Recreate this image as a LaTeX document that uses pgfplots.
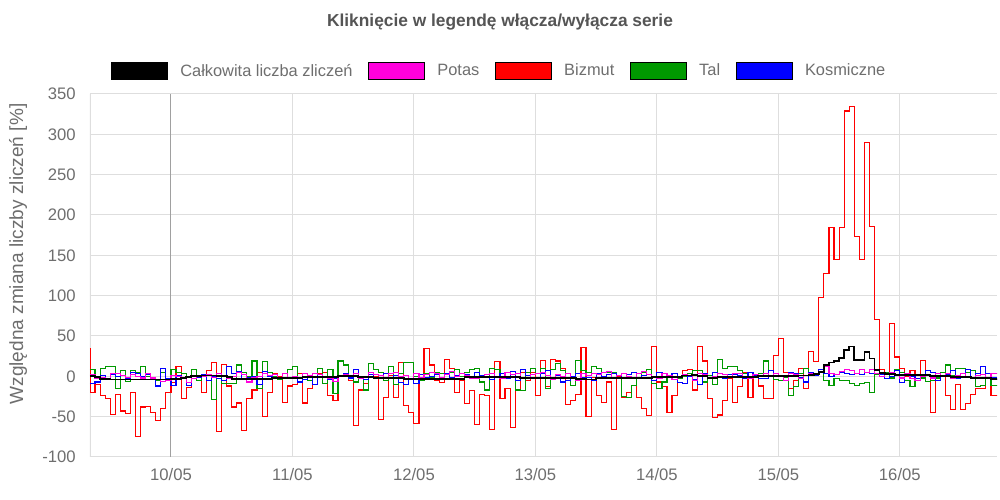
\documentclass[border=0pt]{standalone}
\usepackage{pgfplots}
\pgfplotsset{compat=1.18}
\usepackage{fontspec}
\setmainfont{Liberation Sans}
\definecolor{txt}{HTML}{6E6E6E}
\definecolor{ttl}{HTML}{555555}
\definecolor{gridc}{HTML}{DEDEDE}
\definecolor{basec}{HTML}{A0A0A0}
\definecolor{potas}{HTML}{FF00DD}
\definecolor{bizmut}{HTML}{FF0000}
\definecolor{tal}{HTML}{009900}
\definecolor{kosm}{HTML}{0000FF}
\begin{document}
\begin{tikzpicture}
\useasboundingbox (0,0) rectangle (750pt,375pt);
\begin{axis}[
	at={(67.5pt,32.25pt)}, anchor=south west,
	scale only axis, width=680.25pt, height=272.25pt,
	xmin=-16, xmax=163.2, ymin=-100, ymax=350,
	xtick={0,24,48,72,96,120,144},
	xticklabels={10/05,11/05,12/05,13/05,14/05,15/05,16/05},
	ytick={-100,-50,...,350},
	grid=major, major grid style={gridc, line width=0.75pt},
	axis line style={draw=none}, tick style={draw=none},
	ticklabel style={font=\fontsize{12.5}{15}\selectfont, text=txt},
	/pgf/number format/assume math mode=true,
	yticklabel style={anchor=east, inner sep=0pt, xshift=-10.5pt},
	xticklabel style={anchor=north, inner sep=0pt, yshift=-8.5pt},
	const plot,
	legend columns=5,
	legend style={at={(0.4515,1.0634)}, anchor=center, draw=none, fill=none,
		font=\fontsize{12.3}{15}\selectfont, text=txt,
		cells={anchor=west, inner sep=0pt},
		/tikz/every odd column/.append style={column sep=7.5pt},
		/tikz/every even column/.append style={column sep=9.75pt}},
	legend image code/.code={\fill[#1] (0pt,-6.5pt) rectangle (42pt,6.5pt);},
]
% legend in the order of the original
\addlegendimage{fill=black}
\addlegendentry{Całkowita liczba zliczeń}
\addlegendimage{fill=potas}
\addlegendentry{Potas}
\addlegendimage{fill=bizmut}
\addlegendentry{Bizmut}
\addlegendimage{fill=tal}
\addlegendentry{Tal}
\addlegendimage{fill=kosm}
\addlegendentry{Kosmiczne}
%
\draw[gridc, line width=0.75pt] (axis cs:-16,-100) -- (axis cs:-16,350);
\draw[basec, line width=0.75pt] (axis cs:0,-100) -- (axis cs:0,350);
%
% Bizmut
\addplot[forget plot, bizmut, line width=0.85pt] coordinates {
(-16,35)(-15.95,-20)(-15,-10)(-14,-24)(-13,-27)(-12,-47)(-11,-22)(-10,-43)(-9,-46)(-8,-20)(-7,-75)(-6,-38)(-5,-37)(-4,-45)(-3,-55)(-2,-40)(-1,-20)
(0,-8)(1,12)(2,-28)(3,-14)(4,-3)(5,0)(6,-20)(7,7)(8,17)(9,-68)(10,15)(11,-12)(12,-38)(13,-33)(14,-67)(15,-27)(16,-17)(17,5)(18,-50)(19,-20)(20,3)(21,0)(22,-32)(23,-12)
(24,-10)(25,3)(26,-33)(27,-15)(28,0)(29,3)(30,5)(31,-24)(32,-30)(33,0)(34,3)(35,-5)(36,-61)(37,-17)(38,-9)(39,5)(40,0)(41,-53)(42,-26)(43,1)(44,-26)(45,17)(46,-36)(47,-45)
(48,-59)(49,-5)(50,34)(51,14)(52,-5)(53,-8)(54,21)(55,10)(56,-20)(57,-5)(58,-34)(59,-18)(60,-60)(61,-22)(62,-24)(63,-66)(64,18)(65,-28)(66,-15)(67,-63)(68,-18)(69,5)(70,-5)(71,5)
(72,-24)(73,20)(74,-13)(75,21)(76,19)(77,10)(78,-35)(79,-30)(80,-22)(81,36)(82,-50)(83,-1)(84,-24)(85,-32)(86,-7)(87,-66)(88,0)(89,-26)(90,-20)(91,-11)(92,-26)(93,-40)(94,-49)(95,37)
(96,-7)(97,-13)(98,-45)(99,-24)(100,-2)(101,7)(102,8)(103,-17)(104,37)(105,19)(106,-28)(107,-51)(108,-48)(109,-30)(110,-2)(111,-32)(112,-13)(113,5)(114,-26)(115,0)(116,-12)(117,-28)(118,-28)(119,26)
(120,47)(121,5)(122,-15)(123,-5)(124,10)(125,-15)(126,31)(127,18)(128,98)(129,128)(130,185)(131,145)(132,185)(133,329)(134,334)(135,173)(136,145)(137,290)(138,186)(139,70)(140,8)(141,5)(142,65)(143,24)
(144,10)(145,0)(146,7)(147,2)(148,20)(149,2)(150,-45)(151,0)(152,5)(153,-24)(154,-41)(155,-10)(156,-41)(157,-34)(158,-22)(159,-15)(160,-15)(161,-1)(162,-24)(163,-24)(164,-24)
};
% Tal
\addplot[forget plot, tal, line width=0.85pt] coordinates {
(-16,8)(-15,0)(-14,10)(-13,12)(-12,12)(-11,-15)(-10,7)(-9,-6)(-8,7)(-7,5)(-6,12)(-5,0)(-4,-2)(-3,-5)(-2,5)(-1,-3)
(0,9)(1,5)(2,3)(3,-11)(4,8)(5,-5)(6,0)(7,-5)(8,-29)(9,0)(10,-9)(11,-9)(12,-9)(13,14)(14,5)(15,0)(16,19)(17,-15)(18,18)(19,5)(20,0)(21,-4)(22,3)(23,8)
(24,12)(25,-3)(26,0)(27,-5)(28,3)(29,10)(30,-9)(31,8)(32,-21)(33,19)(34,14)(35,0)(36,-7)(37,0)(38,-17)(39,16)(40,8)(41,5)(42,-5)(43,12)(44,-10)(45,3)(46,17)(47,17)
(48,0)(49,-5)(50,3)(51,-2)(52,5)(53,3)(54,-3)(55,5)(56,8)(57,0)(58,5)(59,8)(60,10)(61,-7)(62,-17)(63,10)(64,8)(65,3)(66,-2)(67,0)(68,-17)(69,-18)(70,5)(71,10)
(72,3)(73,10)(74,-15)(75,8)(76,16)(77,7)(78,-1)(79,-11)(80,20)(81,7)(82,5)(83,12)(84,10)(85,5)(86,5)(87,5)(88,-3)(89,-25)(90,-26)(91,-11)(92,-3)(93,5)(94,8)(95,-9)
(96,-15)(97,-7)(98,1)(99,3)(100,-3)(101,0)(102,3)(103,7)(104,7)(105,-7)(106,1)(107,-10)(108,21)(109,10)(110,12)(111,12)(112,7)(113,3)(114,5)(115,1)(116,4)(117,19)(118,7)(119,-4)
(120,-5)(121,-1)(122,-24)(123,-13)(124,3)(125,10)(126,5)(127,4)(128,5)(129,-5)(130,-11)(131,-3)(132,-5)(133,-5)(134,-9)(135,-11)(136,-9)(137,-8)(138,-20)(139,2)(140,3)(141,5)(142,-2)(143,8)
(144,5)(145,-5)(146,-13)(147,-3)(148,-2)(149,-6)(150,-5)(151,-2)(152,5)(153,14)(154,1)(155,10)(156,10)(157,5)(158,7)(159,-13)(160,-11)(161,3)(162,-11)(163,-11)(164,-11)
};
% Kosmiczne
\addplot[forget plot, kosm, line width=0.85pt] coordinates {
(-16,-9)(-15,-7)(-14,1)(-13,-3)(-12,2)(-11,0)(-10,1)(-9,-2)(-8,5)(-7,4)(-6,0)(-5,2)(-4,-3)(-3,-12)(-2,10)(-1,-3)
(0,-11)(1,1)(2,-3)(3,-11)(4,1)(5,-1)(6,2)(7,-5)(8,0)(9,-3)(10,-5)(11,12)(12,3)(13,6)(14,-3)(15,-2)(16,0)(17,-10)(18,6)(19,0)(20,-2)(21,-3)(22,4)(23,-2)
(24,-3)(25,-7)(26,-4)(27,-1)(28,-10)(29,2)(30,0)(31,-4)(32,-2)(33,1)(34,3)(35,-2)(36,8)(37,0)(38,-4)(39,2)(40,-3)(41,-1)(42,3)(43,-1)(44,1)(45,-8)(46,-10)(47,-3)
(48,-9)(49,2)(50,-2)(51,0)(52,2)(53,-3)(54,3)(55,-1)(56,1)(57,4)(58,2)(59,-3)(60,5)(61,1)(62,0)(63,-4)(64,0)(65,4)(66,-2)(67,6)(68,-5)(69,8)(70,1)(71,-2)
(72,-3)(73,4)(74,7)(75,-4)(76,1)(77,-7)(78,-5)(79,0)(80,3)(81,-2)(82,-1)(83,-5)(84,3)(85,0)(86,2)(87,3)(88,1)(89,-2)(90,2)(91,5)(92,-3)(93,1)(94,2)(95,-5)
(96,5)(97,3)(98,0)(99,4)(100,-8)(101,-9)(102,0)(103,-4)(104,-10)(105,3)(106,-2)(107,5)(108,-1)(109,-2)(110,2)(111,2)(112,1)(113,-2)(114,5)(115,1)(116,-3)(117,-3)(118,7)(119,0)
(120,0)(121,-5)(122,5)(123,3)(124,-2)(125,-7)(126,5)(127,1)(128,8)(129,3)(130,0)(131,2)(132,5)(133,3)(134,2)(135,4)(136,2)(137,5)(138,3)(139,7)(140,2)(141,-3)(142,0)(143,7)
(144,-8)(145,2)(146,0)(147,-3)(148,2)(149,7)(150,5)(151,-5)(152,0)(153,2)(154,7)(155,-2)(156,3)(157,8)(158,-2)(159,4)(160,12)(161,3)(162,-2)(163,-4)(164,-4)
};
% Potas
\addplot[forget plot, potas, line width=0.85pt] coordinates {
(-16,2)(-15,-3)(-14,-1)(-13,-4)(-12,3)(-11,3)(-10,1)(-9,-1)(-8,2)(-7,0)(-6,-2)(-5,3)(-4,-2)(-3,-4)(-2,-6)(-1,-5)
(0,1)(1,0)(2,-2)(3,-8)(4,-3)(5,1)(6,0)(7,2)(8,-1)(9,3)(10,1)(11,-3)(12,0)(13,5)(14,2)(15,-7)(16,-1)(17,0)(18,3)(19,1)(20,2)(21,-1)(22,3)(23,-2)
(24,0)(25,-2)(26,3)(27,1)(28,4)(29,2)(30,0)(31,-3)(32,-6)(33,0)(34,2)(35,1)(36,3)(37,-2)(38,0)(39,5)(40,2)(41,1)(42,-2)(43,3)(44,5)(45,0)(46,1)(47,-3)
(48,4)(49,-1)(50,2)(51,5)(52,3)(53,-1)(54,2)(55,6)(56,0)(57,3)(58,1)(59,-2)(60,-3)(61,0)(62,2)(63,3)(64,0)(65,-2)(66,5)(67,2)(68,3)(69,-1)(70,-2)(71,2)
(72,3)(73,5)(74,1)(75,-4)(76,2)(77,0)(78,3)(79,-1)(80,-5)(81,3)(82,1)(83,4)(84,2)(85,5)(86,6)(87,-2)(88,1)(89,3)(90,0)(91,-1)(92,3)(93,6)(94,2)(95,0)
(96,-2)(97,3)(98,1)(99,-4)(100,0)(101,2)(102,1)(103,-5)(104,3)(105,2)(106,-2)(107,0)(108,4)(109,2)(110,-1)(111,3)(112,4)(113,0)(114,-3)(115,2)(116,0)(117,3)(118,1)(119,4)
(120,0)(121,-5)(122,3)(123,2)(124,-3)(125,1)(126,4)(127,2)(128,5)(129,12)(130,3)(131,2)(132,6)(133,8)(134,7)(135,3)(136,9)(137,5)(138,9)(139,4)(140,0)(141,3)(142,5)(143,1)
(144,-2)(145,3)(146,-3)(147,-5)(148,0)(149,2)(150,-2)(151,3)(152,0)(153,4)(154,-2)(155,1)(156,3)(157,0)(158,-2)(159,1)(160,2)(161,-1)(162,3)(163,4)(164,4)
};
% Calkowita liczba zliczen
\addplot[forget plot, black, line width=1.3pt] coordinates {
(-16,0)(-15,-1)(-14,-3)(-12,-4)(0,-3)(2,-2)(3,-1)(4,0)(6,1)(9,0)(11,-1)(12,-3)(18,-3)(20,-2)(24,-2)(26,-1)(31,-1)(33,0)(37,-1)(40,-2)
(46,-3)(58,-1)(69,-2)(80,-3)(82,-4)(84,-2)(92,-2)(95,-1)(101,1)(103,2)(104,0)(106,-2)(108,-1)(116,0)(120,0)(124,1)(126,2)(127,3)
(128,5)(129,14)(130,17)(131,19)(132,23)(133,33)(134,37)(135,20)(136,20)(137,30)(138,22)(139,8)(140,4)(141,3)(143,2)(146,2)(150,0)(154,-1)(158,-2)(162,-3)(164,-3)
};
\end{axis}
\node[font=\bfseries\fontsize{13}{15}\selectfont, text=ttl] at (375pt,358.5pt) {Kliknięcie w legendę włącza/wyłącza serie};
\node[rotate=90, font=\fontsize{14.3}{16}\selectfont, text=txt] at (13.5pt,184.5pt) {Względna zmiana liczby zliczeń [\%]};
\end{tikzpicture}
\end{document}
